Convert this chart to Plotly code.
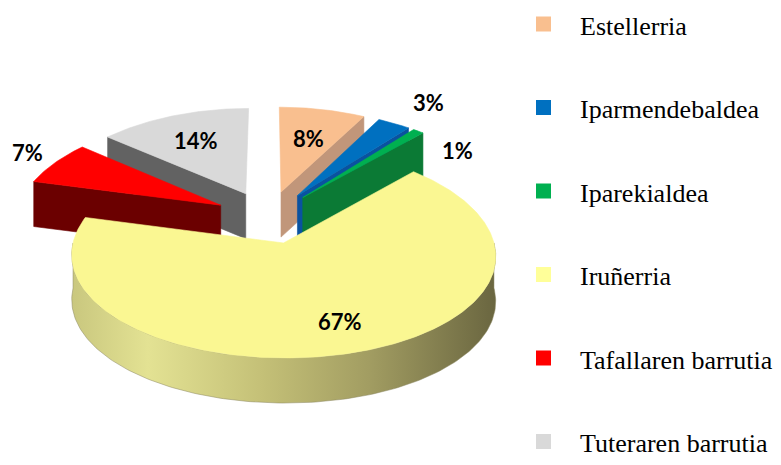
import numpy as np
import plotly.graph_objects as go

# ---- data ----
categories = ["Estellerria", "Iparmendebaldea", "Iparekialdea",
              "Iruñerria", "Tafallaren barrutia", "Tuteraren barrutia"]
shares = [8, 3, 1, 67, 7, 14]
pct_labels = ["8%", "3%", "1%", "67%", "7%", "14%"]

# ---- style ----
top_colors = ["#F9BF8F", "#0070C0", "#00B050", "#FAF792", "#FF0000", "#D9D9D9"]
side_colors = ["#C1967A", "#0A52A0", "#0B7A35", "#C9C67C", "#6B0000", "#626262"]
legend_colors = ["#F9BF8F", "#0070C0", "#00B050", "#FFFF99", "#FF0000", "#D9D9D9"]
yellow_side_scale = [[0.0, "#C9C77E"], [0.18, "#E3E293"], [0.45, "#C4C077"],
                     [0.7, "#A29D62"], [1.0, "#6A6640"]]

# page body has an 8px margin; axis ranges compensate so coordinates are page pixels
OFF = 8
W, H = 781, 465

# projection parameters (pseudo-3D with mild perspective)
CX, CY = 268.0, 217.0
RX, RY = 204.0, 100.0
PX, PY = 0.125, 0.10
DEPTH = 45.0
PULL = 0.264

label_r = [0.62, 1.0, 1.0, 0.73, 1.0, 0.66]
label_shift = [(0, 0), (34, -21), (39, 19), (9, 0), (-27, -10), (0, 0)]

# legend layout (page pixels)
LEG_SQ_X = 543.5
LEG_TXT_X = 578
LEG_Y0, LEG_DY = 24, 83.5


def proj(u, v, z=0.0):
    u = np.asarray(u, float)
    v = np.asarray(v, float)
    x = CX + RX * u * (1 + PX * v)
    y = CY + RY * v * (1 + PY * v) + z * DEPTH
    return x, y


fig = go.Figure()
total = float(sum(shares))
cum = np.concatenate([[0], np.cumsum(shares)])

slices = []
for i, s in enumerate(shares):
    a1 = 360.0 * cum[i] / total
    a2 = 360.0 * cum[i + 1] / total
    mid = (a1 + a2) / 2
    ou = PULL * np.sin(np.radians(mid))
    ov = -PULL * np.cos(np.radians(mid))
    slices.append((ov, i, a1, a2, mid, ou))

slices.sort()


def poly(xs, ys, color):
    fig.add_trace(go.Scatter(x=list(xs), y=list(ys), mode="lines", fill="toself",
                             fillcolor=color, line=dict(color=color, width=0.6),
                             hoverinfo="skip", showlegend=False))


for ov, i, a1, a2, mid, ou in slices:
    # radial faces
    for ang, sgn in ((a1, -1), (a2, 1)):
        vis = sgn * np.sin(np.radians(ang))
        if vis > 0.01:
            ru, rv = ou + np.sin(np.radians(ang)), ov - np.cos(np.radians(ang))
            x0, y0 = proj(ou, ov)
            x1, y1 = proj(ru, rv)
            x2, y2 = proj(ru, rv, 1)
            x3, y3 = proj(ou, ov, 1)
            poly([x0, x1, x2, x3, x0], [y0, y1, y2, y3, y0], side_colors[i])
    # outer side (front facing part)
    lo, hi = max(a1, 90.0), min(a2, 270.0)
    if hi > lo:
        ang = np.radians(np.linspace(lo, hi, 160))
        uu = ou + np.sin(ang)
        vv = ov - np.cos(ang)
        xt, yt = proj(uu, vv)
        xb, yb = proj(uu, vv, 1)
        xs = np.concatenate([xt, xb[::-1], xt[:1]])
        ys = np.concatenate([yt, yb[::-1], yt[:1]])
        if shares[i] == max(shares):
            fig.add_trace(go.Scatter(
                x=xs, y=ys, mode="lines", fill="toself",
                fillgradient=dict(type="horizontal", colorscale=yellow_side_scale,
                                  start=float(xs.min()), stop=float(xs.max())),
                line=dict(color="#8A8760", width=0.5), hoverinfo="skip",
                showlegend=False))
        else:
            poly(xs, ys, side_colors[i])
    # top face
    ang = np.radians(np.linspace(a1, a2, max(4, int((a2 - a1) * 1.5))))
    uu = np.concatenate([[ou], ou + np.sin(ang), [ou]])
    vv = np.concatenate([[ov], ov - np.cos(ang), [ov]])
    xt, yt = proj(uu, vv)
    poly(xt, yt, top_colors[i])

# percentage labels
for ov, i, a1, a2, mid, ou in slices:
    r = label_r[i]
    lu = ou + r * np.sin(np.radians(mid))
    lv = ov - r * np.cos(np.radians(mid))
    lx, ly = proj(lu, lv)
    fig.add_annotation(x=float(lx) + label_shift[i][0], y=float(ly) + label_shift[i][1],
                       text="<b>" + pct_labels[i] + "</b>", showarrow=False,
                       font=dict(family="Lato", size=22, color="#000000"))

# legend (square swatches + labels)
leg_y = [LEG_Y0 + k * LEG_DY for k in range(len(categories))]
fig.add_trace(go.Scatter(x=[LEG_SQ_X] * len(categories), y=leg_y, mode="markers",
                         marker=dict(symbol="square", size=15, color=legend_colors,
                                     line=dict(width=0)),
                         hoverinfo="skip", showlegend=False))
for name, yy in zip(categories, leg_y):
    fig.add_annotation(x=LEG_TXT_X, y=yy + 2, text=name, showarrow=False,
                       xanchor="left", yanchor="middle",
                       font=dict(family="Liberation Serif", size=26, color="#000000"))

fig.update_layout(
    width=W, height=H,
    margin=dict(l=0, r=0, t=0, b=0),
    paper_bgcolor="white", plot_bgcolor="white",
    xaxis=dict(range=[OFF, W + OFF], visible=False, fixedrange=True),
    yaxis=dict(range=[H + OFF, OFF], visible=False, fixedrange=True),
    showlegend=False,
)

fig.write_html("out.html")
